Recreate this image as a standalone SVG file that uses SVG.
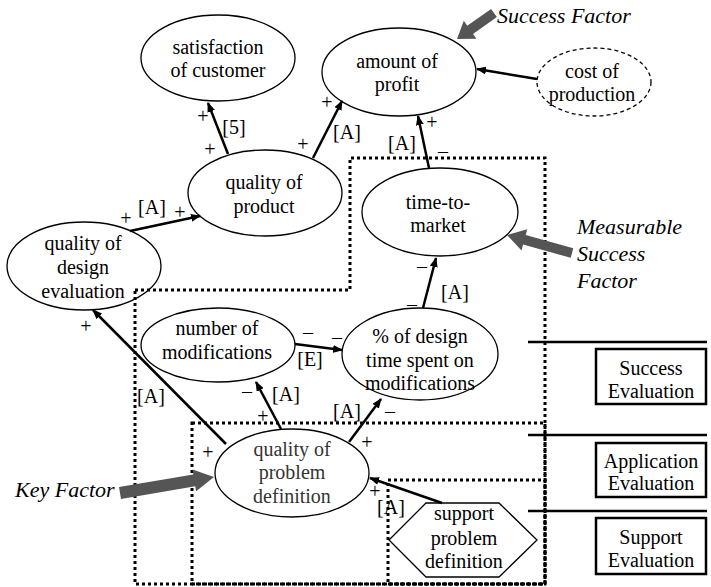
<svg xmlns="http://www.w3.org/2000/svg" width="711" height="587" viewBox="0 0 711 587">
<style>
  text { font-family: Liberation Serif, serif; font-size: 20px; fill: #000; }
  .c { text-anchor: middle; }
  .it { font-style: italic; font-size: 22px; }
  .pd { fill: #333; }
  .node { fill: #fff; stroke: #000; stroke-width: 1.3; }
  .dash { stroke-dasharray: 4 3; }
  .conn { stroke: #000; stroke-width: 2.5; fill: none; marker-end: url(#ah); }
  .dot { fill: none; stroke: #000; stroke-width: 3; stroke-dasharray: 3 3; }
  .gray { fill: #555; stroke: none; }
  .sep { stroke: #000; stroke-width: 2.5; }
  .box { fill: #fff; stroke: #000; stroke-width: 2.5; }
</style>
<defs>
  <marker id="ah" markerWidth="10" markerHeight="8" refX="9" refY="4" orient="auto" markerUnits="userSpaceOnUse">
    <path d="M0,0 L10,4 L0,8 z" fill="#000"/>
  </marker>
</defs>
<rect width="711" height="587" fill="#fff"/>

<g id="satisfaction">
  <ellipse class="node" cx="218" cy="58" rx="77" ry="43"/>
  <text class="c" x="218" y="54">satisfaction</text>
  <text class="c" x="218" y="77">of customer</text>
</g>
<g id="profit">
  <ellipse class="node" cx="399" cy="72" rx="77" ry="44"/>
  <text class="c" x="397" y="68">amount of</text>
  <text class="c" x="397" y="91">profit</text>
</g>
<g id="cost">
  <ellipse class="node dash" cx="594" cy="82" rx="57" ry="34"/>
  <text class="c" x="592" y="78">cost of</text>
  <text class="c" x="592" y="101">production</text>
</g>
<g id="product">
  <ellipse class="node" cx="265" cy="193" rx="77" ry="43"/>
  <text class="c" x="264" y="189">quality of</text>
  <text class="c" x="264" y="213">product</text>
</g>
<g id="design-eval">
  <ellipse class="node" cx="84" cy="266" rx="77" ry="44"/>
  <text class="c" x="83" y="250">quality of</text>
  <text class="c" x="83" y="274">design</text>
  <text class="c" x="83" y="298">evaluation</text>
</g>
<g id="ttm">
  <ellipse class="node" cx="440" cy="212" rx="78" ry="44"/>
  <text class="c" x="438" y="209">time-to-</text>
  <text class="c" x="438" y="232">market</text>
</g>
<g id="modifications">
  <ellipse class="node" cx="218" cy="345" rx="77" ry="37"/>
  <text class="c" x="217" y="335">number of</text>
  <text class="c" x="217" y="359">modifications</text>
</g>
<g id="pct">
  <ellipse class="node" cx="420" cy="354" rx="78" ry="46"/>
  <text class="c" x="420" y="343">% of design</text>
  <text class="c" x="420" y="367">time spent on</text>
  <text class="c" x="420" y="390">modifications</text>
</g>
<g id="problem-def">
  <ellipse class="node" cx="292" cy="473" rx="77" ry="44"/>
  <text class="c pd" x="292" y="456">quality of</text>
  <text class="c pd" x="292" y="479">problem</text>
  <text class="c pd" x="292" y="503">definition</text>
</g>
<g id="support-def">
  <polygon class="node" points="389,540 426,503 499,503 537,540 499,577 426,577"/>
  <text class="c" x="464" y="520">support</text>
  <text class="c" x="464" y="545">problem</text>
  <text class="c" x="464" y="568">definition</text>
</g>

<g id="regions">
  <polyline class="dot" points="135,290 350,290 350,158 545,158 545,584 135,584 135,290"/>
  <rect class="dot" x="192" y="423" width="353" height="161"/>
  <rect class="dot" x="388" y="480" width="157" height="104"/>
</g>

<g id="connectors">
  <line class="conn" x1="228" y1="154" x2="208" y2="103"/>
  <line class="conn" x1="313" y1="158" x2="342" y2="101"/>
  <line class="conn" x1="429" y1="168" x2="418" y2="116"/>
  <line class="conn" x1="537" y1="79" x2="477" y2="69"/>
  <line class="conn" x1="130" y1="231" x2="200" y2="216"/>
  <line class="conn" x1="226" y1="444" x2="93" y2="310"/>
  <line class="conn" x1="281" y1="429" x2="256" y2="382"/>
  <line class="conn" x1="295" y1="344" x2="342" y2="350"/>
  <line class="conn" x1="349" y1="442" x2="381" y2="399"/>
  <line class="conn" x1="423" y1="308" x2="436" y2="258"/>
  <line class="conn" x1="442" y1="503" x2="370" y2="478"/>
</g>

<g id="connector-labels">
  <text class="c" x="203" y="123">+</text>
  <text class="c" x="210" y="156">+</text>
  <text class="c" x="234" y="134">[5]</text>
  <text class="c" x="327" y="109">+</text>
  <text class="c" x="303" y="151">+</text>
  <text class="c" x="347" y="139">[A]</text>
  <text class="c" x="432" y="129">+</text>
  <text class="c" x="402" y="150">[A]</text>
  <text class="c" x="443" y="158">–</text>
  <text class="c" x="126" y="225">+</text>
  <text class="c" x="152" y="214">[A]</text>
  <text class="c" x="180" y="219">+</text>
  <text class="c" x="86" y="333">+</text>
  <text class="c" x="151" y="403">[A]</text>
  <text class="c" x="208" y="459">+</text>
  <text class="c" x="247" y="398">–</text>
  <text class="c" x="286" y="401">[A]</text>
  <text class="c" x="263" y="423">+</text>
  <text class="c" x="308" y="339">–</text>
  <text class="c" x="337" y="344">–</text>
  <text class="c" x="310" y="366">[E]</text>
  <text class="c" x="347" y="418">[A]</text>
  <text class="c" x="390" y="418">–</text>
  <text class="c" x="367" y="449">+</text>
  <text class="c" x="422" y="273">–</text>
  <text class="c" x="412" y="311">–</text>
  <text class="c" x="455" y="299">[A]</text>
  <text class="c" x="375" y="498">+</text>
  <text class="c" x="391" y="514">[A]</text>
</g>

<g id="annotations">
  <polygon class="gray" points="491.1,8.9 467.2,25.7 463.8,20.8 457,39 476.4,38.8 473,33.9 496.9,17.1"/>
  <text class="it" x="497" y="23">Success Factor</text>
  <polygon class="gray" points="573.3,248.2 525.7,235 527.3,229.2 507,235 521.5,250.4 523.1,244.6 570.7,257.8"/>
  <text class="it" x="577" y="234">Measurable</text>
  <text class="it" x="577" y="261">Success</text>
  <text class="it" x="577" y="288">Factor</text>
  <polygon class="gray" points="119,487.1 193.3,474.5 192.5,469.6 214,477 196.1,491.2 195.3,486.3 121,498.9"/>
  <text class="it" x="15" y="497">Key Factor</text>
</g>

<g id="levels">
  <line class="sep" x1="528" y1="342" x2="707" y2="342"/>
  <line class="sep" x1="528" y1="435" x2="707" y2="435"/>
  <line class="sep" x1="528" y1="511" x2="707" y2="511"/>
  <g id="success-eval">
    <rect class="box" x="596" y="349" width="110" height="55"/>
    <text class="c" x="651" y="375">Success</text>
    <text class="c" x="651" y="398">Evaluation</text>
  </g>
  <g id="application-eval">
    <rect class="box" x="596" y="443" width="110" height="54"/>
    <text class="c" x="651" y="468">Application</text>
    <text class="c" x="651" y="490">Evaluation</text>
  </g>
  <g id="support-eval">
    <rect class="box" x="596" y="518" width="110" height="56"/>
    <text class="c" x="651" y="544">Support</text>
    <text class="c" x="651" y="567">Evaluation</text>
  </g>
</g>
</svg>
